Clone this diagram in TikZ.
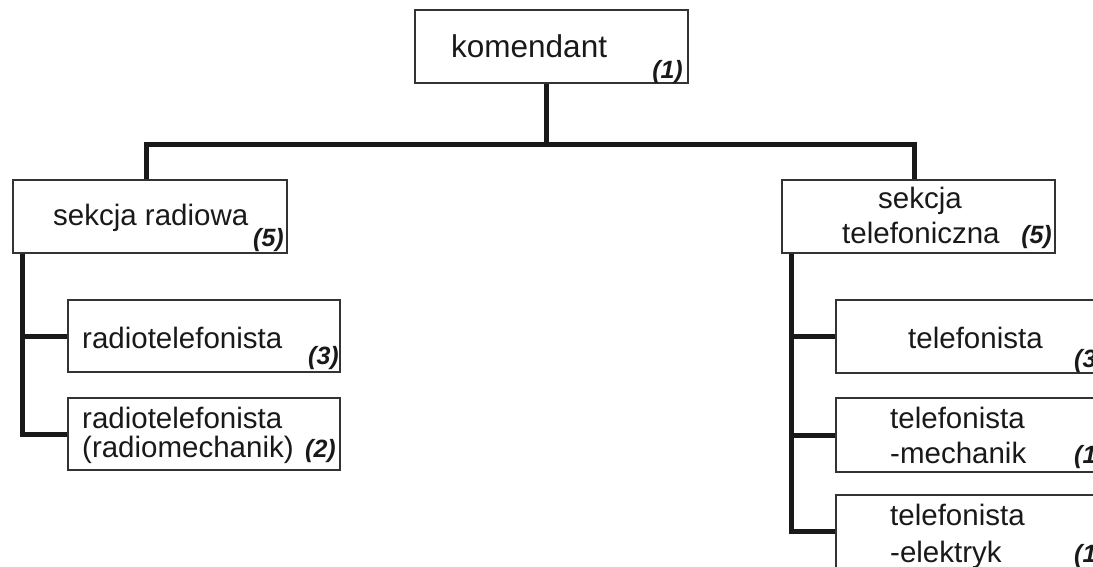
\documentclass[tikz,border=0pt]{standalone}
\usepackage{fontspec}
\setmainfont{Liberation Sans}
\usetikzlibrary{calc, positioning}

\tikzset{
  box/.style={draw=black!80, line width=1.2pt, minimum width=272pt, minimum height=73pt, inner sep=0pt},
  txt/.style={anchor=base west, inner sep=0pt, text=black!90, font=\fontsize{29.5}{33}\selectfont},
  cnt/.style={anchor=base east, inner sep=0pt, text=black!90, font=\fontsize{25}{28}\selectfont\bfseries\itshape},
  cntl/.style={cnt, anchor=base west},
  link/.style={line width=5pt, draw=black!90}
}

\begin{document}
\begin{tikzpicture}[x=1pt, y=-1pt]
\useasboundingbox (0,0) rectangle (1093,566);
\clip (0,0) rectangle (1093,566);

% boxes
\node[box, minimum width=273pt] (kom) at (551.5,46.5) {};
\node[box, minimum width=274pt] (rad) at (150,216.5) {};
\node[box, minimum width=273pt] (tel) at (918.5,216.5) {};
\node[box, minimum height=72pt] (rt1) at (204,336) {};
\node[box, minimum height=72pt] (rt2) at (204,434) {};
\node[box] (tf1) at (972,336.5) {};
\node[box, minimum height=74pt] (tf2) at (972,435) {};
\node[box] (tf3) at (972,531.5) {};

% texts
\node[txt, font=\fontsize{31.5}{35}\selectfont] (komt) at (451,57) {komendant};
\node[cnt] (komn) at (683,78) {(1)};
\node[txt] (radt) at (53,225) {sekcja radiowa};
\node[cnt] (radn) at (284,246) {(5)};
\node[txt] (telt) at (878,208) {sekcja};
\node[txt] (telu) at (842,243) {telefoniczna};
\node[cnt] (teln) at (1052,243) {(5)};
\node[txt] (rt1t) at (82,348) {radiotelefonista};
\node[cnt] (rt1n) at (339,364) {(3)};
\node[txt] (rt2t) at (82,428) {radiotelefonista};
\node[txt] (rt2u) at (82,457) {(radiomechanik)};
\node[cnt] (rt2n) at (336,457) {(2)};
\node[txt] (tf1t) at (908,348) {telefonista};
\node[cntl] (tf1n) at (1074,367) {(3)};
\node[txt] (tf2t) at (890,428) {telefonista};
\node[txt] (tf2u) at (890,463) {-mechanik};
\node[cntl] (tf2n) at (1074,463) {(1)};
\node[txt] (tf3t) at (890,525) {telefonista};
\node[txt] (tf3u) at (890,562) {-elektryk};
\node[cntl] (tf3n) at (1074,562) {(1)};

% connectors
\coordinate (bus) at (546,144);
\coordinate (ltrunk) at ([xshift=10pt]rad.south west);
\coordinate (rtrunk) at ([xshift=10pt]tel.south west);
\draw[link] (bus |- kom.south) -- (bus);
\draw[link] ([xshift=-4pt]rad.north) |- (bus) -| ([xshift=-4pt]tel.north);
\draw[link] (ltrunk) |- (rt2.west);
\draw[link] (rt1.west -| ltrunk) -- (rt1.west);
\draw[link] (rtrunk) |- (tf3.west);
\draw[link] (tf1.west -| rtrunk) -- (tf1.west);
\draw[link] (tf2.west -| rtrunk) -- (tf2.west);
\end{tikzpicture}
\end{document}
